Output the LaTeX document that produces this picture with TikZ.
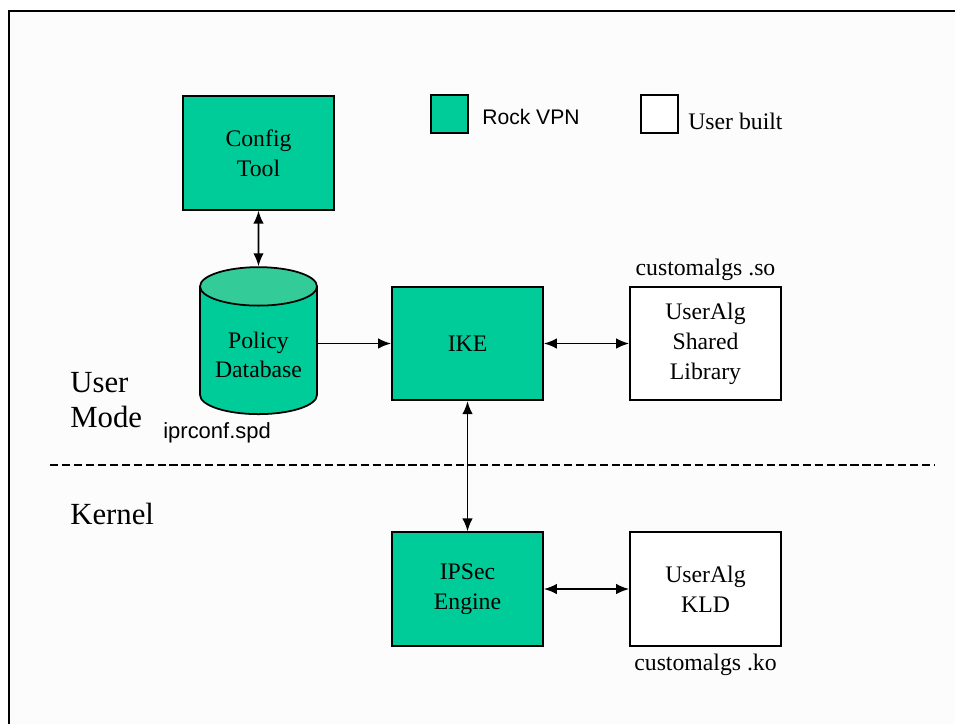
\documentclass[tikz,border=0pt]{standalone}
\usepackage{fontspec}
\setmainfont{Liberation Serif}
\newfontfamily\arialfont{Liberation Sans}
\usepackage{tikz}
\usepackage{xcolor}
\usetikzlibrary{shapes.geometric, arrows.meta, positioning}
\definecolor{rockgreen}{RGB}{0,204,153}
\definecolor{dbtop}{RGB}{51,204,153}
\tikzstyle{rock} = [rectangle, draw=black, line width=1pt, fill=rockgreen,
minimum width=3.02cm, minimum height=2.27cm, align=center,
font=\fontsize{13.5}{17}\selectfont]
\tikzstyle{user} = [rock, fill=white]
\tikzstyle{legbox} = [rectangle, draw=black, line width=1pt,
minimum width=0.74cm, minimum height=0.76cm]
\tikzstyle{arrow} = [line width=1pt, {Latex[length=2.6mm,width=2.1mm]}-{Latex[length=2.6mm,width=2.1mm]}]
\tikzstyle{label} = [inner sep=0pt, font=\fontsize{13.5}{17}\selectfont]

\begin{document}
\begin{tikzpicture}[x=0.02cm, y=-0.02cm]
        \useasboundingbox (0,0) rectangle (955,724);
        % Marco
        \fill[white!99!black] (9,11) rectangle (955,724);
        \draw[line width=1.3pt] (9,724) -- (9,11) -- (955,11);

        % Leyenda
        \node[legbox, fill=rockgreen] (legrock) at (449.5,114) {};
        \node[anchor=west, inner sep=0pt, font=\arialfont\fontsize{12}{14}\selectfont] (legrocktext) at (482,117) {Rock VPN};
        \node[legbox, fill=white] (leguser) at (659.5,114) {};
        \node[label, anchor=west] (legusertext) at (688,121) {User built};

        % Bloques
        \node[rock] (cfg) at (258.5,153) {Config\\Tool};
        \node[cylinder, shape border rotate=90, aspect=0.39, draw=black, line width=1pt,
              cylinder uses custom fill, cylinder body fill=rockgreen, cylinder end fill=dbtop,
              minimum height=2.94cm, minimum width=2.34cm, align=center, anchor=south,
              font=\fontsize{13.5}{17}\selectfont] (db) at (258.5,415) {Policy\\Database};
        \node[rock] (ike) at (467.5,343.5) {IKE};
        \node[user] (lib) at (705.5,343.5) {UserAlg\\Shared\\Library};
        \node[rock] (ips) at (467.5,589) {IPSec\\Engine};
        \node[user] (kld) at (705.5,589) {UserAlg\\KLD};

        % Etiquetas
        \node[label, above=3pt of lib] (soname) {customalgs .so};
        \node[label, below=4pt of kld] (koname) {customalgs .ko};
        \node[anchor=base west, inner sep=0pt, font=\arialfont\fontsize{12.5}{14}\selectfont] (spd) at (163,438) {iprconf.spd};
        \node[anchor=north west, inner sep=0pt, align=left, font=\fontsize{17.5}{20}\selectfont] (usermode) at (70,372) {User\\Mode};
        \node[anchor=base west, inner sep=0pt, font=\fontsize{17.5}{20}\selectfont] (kernel) at (70,524) {Kernel};

        % Separacion usuario / kernel
        \coordinate (sepL) at (50,465);
        \coordinate (sepR) at (935,465);
        \draw[line width=1pt, dash pattern=on 4.6pt off 2.2pt] (sepL) -- (sepR);

        % Conexiones
        \draw[arrow] (cfg.south) -- (db.north);
        \draw[line width=1pt, -{Latex[length=2.6mm,width=2.1mm]}] (db.east |- ike.west) -- (ike.west);
        \draw[arrow] (ike.east) -- (lib.west);
        \draw[arrow] (ike.south) -- (ips.north);
        \draw[arrow] (ips.east) -- (kld.west);
    \end{tikzpicture}
\end{document}
